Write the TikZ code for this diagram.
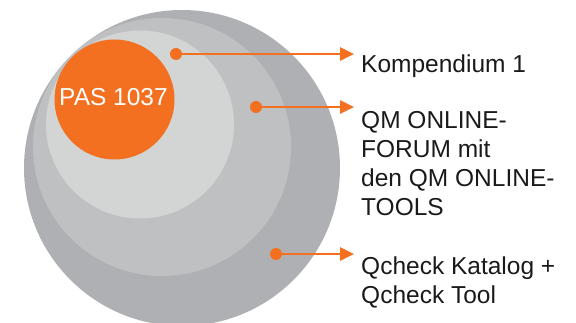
\documentclass[tikz,border=0pt]{standalone}
\usepackage{fontspec}
\setmainfont{Liberation Sans}
\usetikzlibrary{arrows.meta}
\definecolor{ring1}{HTML}{AEB0B3}
\definecolor{ring2}{HTML}{BEC0C2}
\definecolor{ring3}{HTML}{D3D5D5}
\definecolor{orng}{HTML}{F37021}
\definecolor{txt}{HTML}{1A1A1A}
\tikzset{
  disc/.style={circle,inner sep=0pt,draw=none},
  dot/.style={circle,fill=orng,inner sep=0pt,minimum size=12pt},
  arr/.style={draw=orng,line width=2.6pt,-{Triangle[length=14pt,width=13pt]}},
  lbl/.style={anchor=base west,inner sep=0pt,align=left,text=txt,font=\fontsize{24.5}{29.3}\selectfont}
}
\begin{document}
\begin{tikzpicture}[x=1pt,y=-1pt]
\useasboundingbox (0,0) rectangle (576,323);
\clip (0,0) rectangle (576,323);
\node[disc,fill=ring1,minimum size=316pt] (c1) at (182,168) {};
\node[disc,fill=ring2,minimum size=258pt] (c2) at (162,147) {};
\node[disc,fill=ring3,minimum size=188pt] (c3) at (140,124.5) {};
\node[disc,fill=orng,minimum size=120pt] (pas) at (114.5,99.5) {};
\node[inner sep=0pt,anchor=base,text=white,font=\fontsize{24.5}{28}\selectfont] (pastxt) at (113.5,106) {PAS 1037};
\node[dot] (d1) at (176,54) {};
\node[dot] (d2) at (256,107) {};
\node[dot] (d3) at (276,254) {};
\coordinate (a1) at (354,54);
\coordinate (a2) at (354,107);
\coordinate (a3) at (354,254);
\draw[arr] (d1.center) -- (a1);
\draw[arr] (d2.center) -- (a2);
\draw[arr] (d3.center) -- (a3);
\node[lbl] (l1) at (361,73) {Kompendium 1};
\node[lbl] (l2) at (361,216) {QM ONLINE-\\FORUM mit\\den QM ONLINE-\\TOOLS};
\node[lbl] (l3) at (361,304) {Qcheck Katalog +\\Qcheck Tool};
\end{tikzpicture}
\end{document}
